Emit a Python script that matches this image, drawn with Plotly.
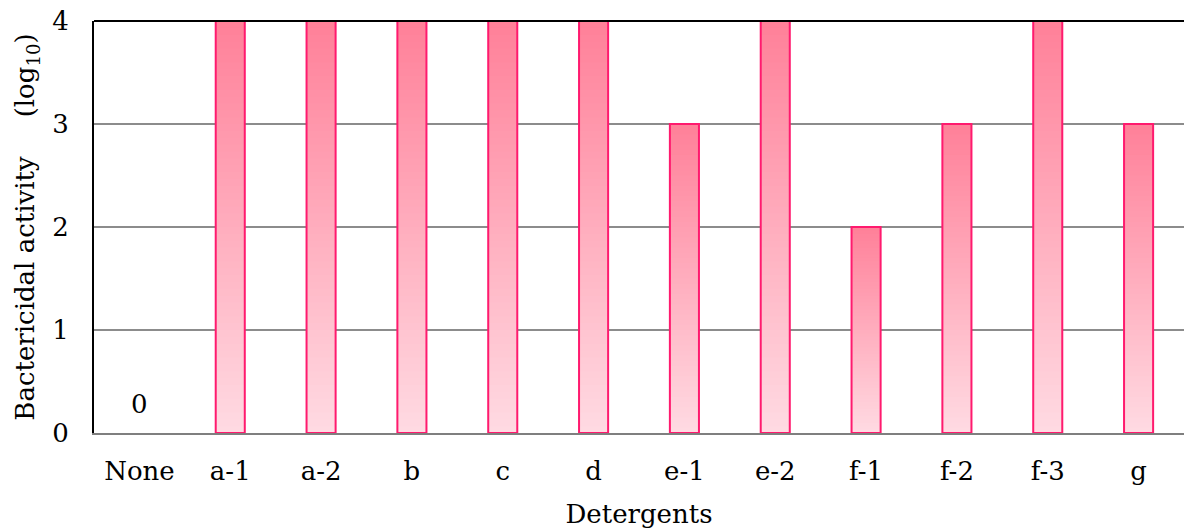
import plotly.graph_objects as go

# Bactericidal activity per detergent (log10 reduction)
detergents = ["None", "a-1", "a-2", "b", "c", "d", "e-1", "e-2", "f-1", "f-2", "f-3", "g"]
activity = [0, 4, 4, 4, 4, 4, 3, 4, 2, 3, 4, 3]
y_ticks = [0, 1, 2, 3, 4]

FONT = "DejaVu Serif"
SIZE = 26
BAR_WIDTH = 0.32
TOP_RGB = (255, 127, 152)
BOTTOM_RGB = (255, 218, 226)
EDGE = "#ff1a6e"
STEPS = 60


def blend(t):
    r, g, b = (round(lo + (hi - lo) * t) for lo, hi in zip(BOTTOM_RGB, TOP_RGB))
    return f"rgb({r},{g},{b})"


fig = go.Figure()

# Vertical gradient fill: each layer starts higher up the bar and is drawn darker,
# so the stack of overlaid layers shades every bar from light (bottom) to dark (top).
for k in range(STEPS):
    frac = k / STEPS
    fig.add_trace(go.Bar(
        x=detergents,
        y=[v * (1 - frac) for v in activity],
        base=[v * frac for v in activity],
        width=BAR_WIDTH,
        marker=dict(color=blend(frac), line=dict(width=0)),
        hoverinfo="skip",
        showlegend=False,
    ))

# Outline of each bar (none for an empty bar)
fig.add_trace(go.Bar(
    x=detergents,
    y=activity,
    width=BAR_WIDTH,
    marker=dict(color="rgba(0,0,0,0)",
                line=dict(color=EDGE, width=[2 if v > 0 else 0 for v in activity])),
    cliponaxis=False,
    showlegend=False,
))

# Value label for the empty control bar
for name, v in zip(detergents, activity):
    if v == 0:
        fig.add_annotation(x=name, y=v, text=str(v), showarrow=False,
                           yanchor="bottom", yshift=12,
                           font=dict(family=FONT, size=SIZE, color="black"))

fig.add_shape(type="line", xref="paper", yref="paper", x0=0, x1=1, y0=1, y1=1,
              line=dict(color="black", width=2))

fig.update_layout(
    width=1184, height=530,
    margin=dict(l=94, r=0, t=21, b=97),
    barmode="overlay",
    plot_bgcolor="white", paper_bgcolor="white",
    font=dict(family=FONT, size=SIZE, color="black"),
    xaxis=dict(
        title=dict(text="Detergents", standoff=20, font=dict(family=FONT, size=SIZE)),
        showline=True, linecolor="#7f7f7f", linewidth=2,
        ticks="", showgrid=False, ticklabelstandoff=14,
        tickfont=dict(family=FONT, size=SIZE),
    ),
    yaxis=dict(
        title=dict(text="Bactericidal activity\u2003\u2002(log<sub>10</sub>)", standoff=10,
                   font=dict(family=FONT, size=SIZE)),
        range=[0, 4], tickvals=y_ticks, ticks="",
        showline=True, linecolor="black", linewidth=2,
        showgrid=True, gridcolor="#8c8c8c", gridwidth=1.5,
        zeroline=False, ticklabelstandoff=18,
        tickfont=dict(family=FONT, size=SIZE),
    ),
)

fig.write_html("out.html")
